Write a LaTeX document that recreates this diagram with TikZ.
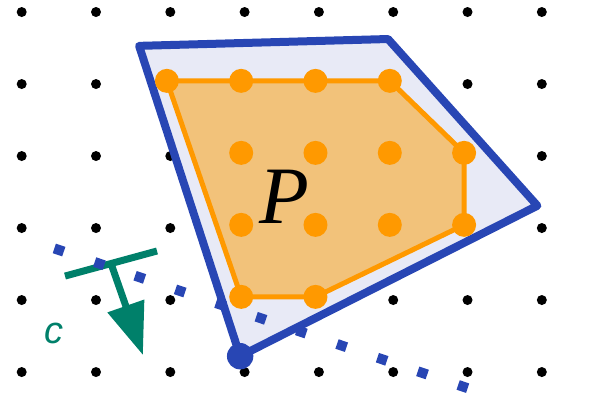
\documentclass[tikz,border=0pt]{standalone}
\usepackage{fontspec}
\usetikzlibrary{arrows.meta,calc}
\newfontfamily\clabelfont{Liberation Sans}
\newfontfamily\plabelfont{Liberation Serif}
\definecolor{polyblue}{RGB}{40,70,180}
\definecolor{polyfill}{RGB}{232,234,246}
\definecolor{hullorange}{RGB}{255,153,0}
\definecolor{hullfill}{RGB}{242,194,122}
\definecolor{costgreen}{RGB}{0,128,106}
\begin{document}
\begin{tikzpicture}[x=1.8575cm,y=1.8cm,
    latpt/.style={fill=hullorange},
    costline/.style={costgreen,line width=0.175cm}]
        \useasboundingbox(-0.292,-0.361) rectangle (7.931,5.167);
        % integer lattice
        \foreach \i in {0,...,7}
            \foreach \j in {0,...,5}
                \fill(\i,\j) circle(0.125cm);
        % relaxation
        \coordinate(A) at(1.58,4.53);
        \coordinate(B) at(4.93,4.625);
        \coordinate(C) at(6.94,2.31);
        \coordinate(D) at(2.94,0.22);
        \filldraw[polyblue,fill=polyfill,line width=0.2cm,line join=round](A)--(B)--(C)--(D)--cycle;
        % integer hull P
        \begin{scope}[shift={(-0.046,0.044)}]
            \filldraw[hullorange,fill=hullfill,line width=0.125cm,line join=round](2,4)--(5,4)--(6,3)--(6,2)--(4,1)--(3,1)--cycle;
            \foreach \p in {(2,4),(3,4),(4,4),(5,4),(3,3),(4,3),(5,3),(6,3),(3,2),(4,2),(5,2),(6,2),(3,1),(4,1)}
                \fill[latpt]\p circle(0.3cm);
        \end{scope}
        \node at(3.53,2.43){\fontsize{58}{60}\selectfont\plabelfont\itshape P};
        \fill[polyblue](D) circle(0.33cm);
        % objective
        \coordinate(c1) at(0.583,1.333);
        \coordinate(c2) at(1.821,1.681);
        \coordinate(ctip) at(1.632,0.236);
        \draw[costline](c1)--(c2);
        \draw[costline,-{Triangle[length=1.3cm,width=0.93cm]}]($(c1)!0.5!(c2)$)--(ctip);
        \node[costgreen] at(0.428,0.542){\fontsize{27}{30}\selectfont\clabelfont\itshape c};
        \draw[polyblue,line width=0.25cm,dash pattern=on 0.25cm off 0.8157cm](0.439,1.717)--(6.007,-0.226);
    \end{tikzpicture}
\end{document}
